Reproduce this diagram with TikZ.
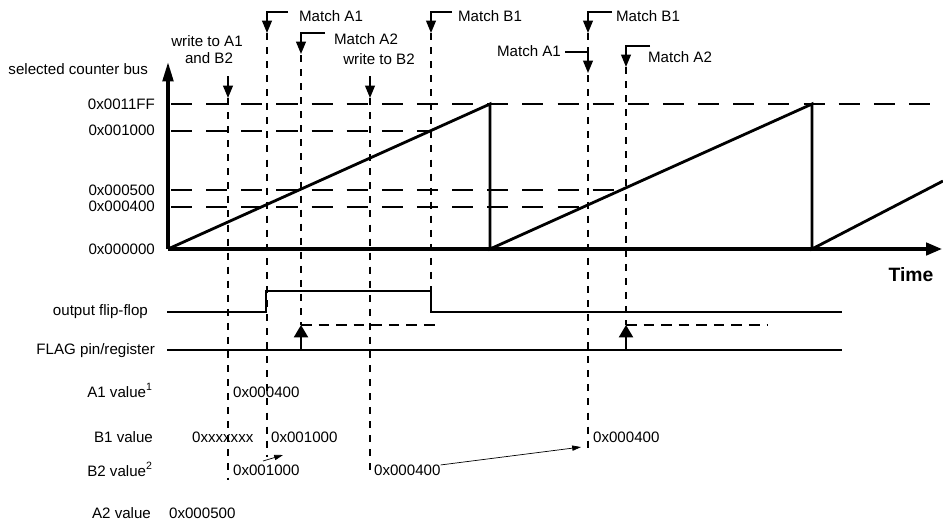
\documentclass[tikz,border=0pt]{standalone}
\usepackage{fontspec}
\setmainfont{Liberation Sans}
\usetikzlibrary{arrows.meta,positioning,calc}

\begin{document}
\begin{tikzpicture}[x=0.02cm,y=-0.02cm,
  font=\fontsize{8.6}{10}\selectfont,
  lbl/.style={inner sep=1pt,text height=6.3pt,text depth=1.6pt},
  axis/.style={line width=1.9pt},
  ramp/.style={line width=1.6pt},
  level/.style={line width=1.1pt,dash pattern=on 12pt off 8pt},
  event/.style={line width=1.1pt,dash pattern=on 4pt off 4pt},
  sig/.style={line width=1.6pt},
  flagdash/.style={line width=1pt,dash pattern=on 6pt off 4pt},
  pointer/.style={line width=1pt,-{Triangle[length=7pt,width=5.5pt]}},
  flagarrow/.style={line width=1pt,-{Triangle[length=7pt,width=8pt]}},
  thin arrow/.style={line width=0.4pt,-{Triangle[length=5pt,width=3pt]}}]
\useasboundingbox (0,0) rectangle (943,525);

% --- counter bus ---------------------------------------------------
\coordinate (origin) at (168,249);
\draw[axis,-{Triangle[length=11pt,width=6pt]}] (origin) -- (168,62);
\draw[axis,-{Triangle[length=9pt,width=7pt]}] (origin) -- (942,249);
\draw[ramp] (origin) -- (490,104) -- (490,249) -- (812,104) -- (812,249) -- (943,181);
% compare levels
\foreach \y/\xend in {104/943, 131/430, 190/625, 207/588} {
  \draw[level] (171,\y) -- (\xend,\y);
}
\node[lbl,anchor=east] (busname) at (150,70) {selected counter bus};
\foreach \y/\val/\nm in {105/0x0011FF/top, 131/0x001000/lvb, 191/0x000500/lva, 207/0x000400/lvc, 250/0x000000/zero} {
  \node[lbl,anchor=east] (\nm) at (157,\y) {\val};
}
\node[font=\fontsize{11}{13}\selectfont\bfseries] (time) at (911,275) {Time};

% --- event lines ----------------------------------------------------
\foreach \x/\top/\bot in {228/98/480, 267/33/457, 301/55/325, 370/98/470,
                          431/33/291, 588/33/452, 626/67/325} {
  \draw[event] (\x,\top) -- (\x,\bot);
}
% pointers: x, y of hook, hook end
\foreach \x/\y/\hx in {267/12/288, 301/33/325, 431/12/452, 588/12/612, 588/52/565, 626/46/650} {
  \draw[pointer] (\hx,\y) -- (\x,\y) -- (\x,\y+21);
}
\draw[pointer] (228,76) -- (228,98);
\draw[pointer] (370,76) -- (370,98);

\node[lbl] (wrA) at (207,42) {write to A1};
\node[lbl] (wrAb) at (209,59) {and B2};
\node[lbl,anchor=west] (mA1) at (297,17) {Match A1};
\node[lbl,anchor=west] (mA2) at (332,40) {Match A2};
\node[lbl] (wrB) at (379,60) {write to B2};
\node[lbl,anchor=west] (mB1) at (456,17) {Match B1};
\node[lbl,anchor=west] (mB1b) at (614,17) {Match B1};
\node[lbl,anchor=east] (mA1b) at (563,52) {Match A1};
\node[lbl,anchor=west] (mA2b) at (646,58) {Match A2};

% --- output and flag ------------------------------------------------
\node[lbl,anchor=east] (outname) at (150,311) {output flip-flop};
\node[lbl,anchor=east] (flagname) at (157,350) {FLAG pin/register};
\draw[sig] (167,312) -- (266,312) -- (266,291) -- (431,291) -- (431,312) -- (842,312);
\draw[sig] (167,350) -- (842,350);
\draw[flagdash] (301,325) -- (440,325);
\draw[flagdash] (626,325) -- (767,325);
\draw[flagarrow] (301,350) -- (301,325);
\draw[flagarrow] (626,350) -- (626,325);

% --- register values ------------------------------------------------
\node[lbl,anchor=east] (a1name) at (155,393) {A1 value\textsuperscript{1}};
\node[lbl,anchor=east] (b1name) at (155,438) {B1 value};
\node[lbl,anchor=east] (b2name) at (155,472) {B2 value\textsuperscript{2}};
\node[lbl,anchor=east] (a2name) at (153,514) {A2 value};

\node[lbl,anchor=west] (a1v) at (231,393) {0x000400};
\node[lbl,anchor=west] (b1v) at (190,438) {0xxxxxxx};
\node[lbl,anchor=west] (b1w) at (269,438) {0x001000};
\node[lbl,anchor=west] (b1x) at (591,438) {0x000400};
\node[lbl,anchor=west] (b2v) at (231,471) {0x001000};
\node[lbl,anchor=west] (b2w) at (372,471) {0x000400};
\node[lbl,anchor=west] (a2v) at (167,514) {0x000500};

\coordinate (b2vtop) at (263,461);
\coordinate (b1wbot) at (283,455);
\draw[thin arrow] (b2vtop) -- (b1wbot);
\draw[thin arrow] ($(b2w.north east)+(-2,3)$) -- ($(b1x.south west)+(-10,0)$);
\end{tikzpicture}
\end{document}
